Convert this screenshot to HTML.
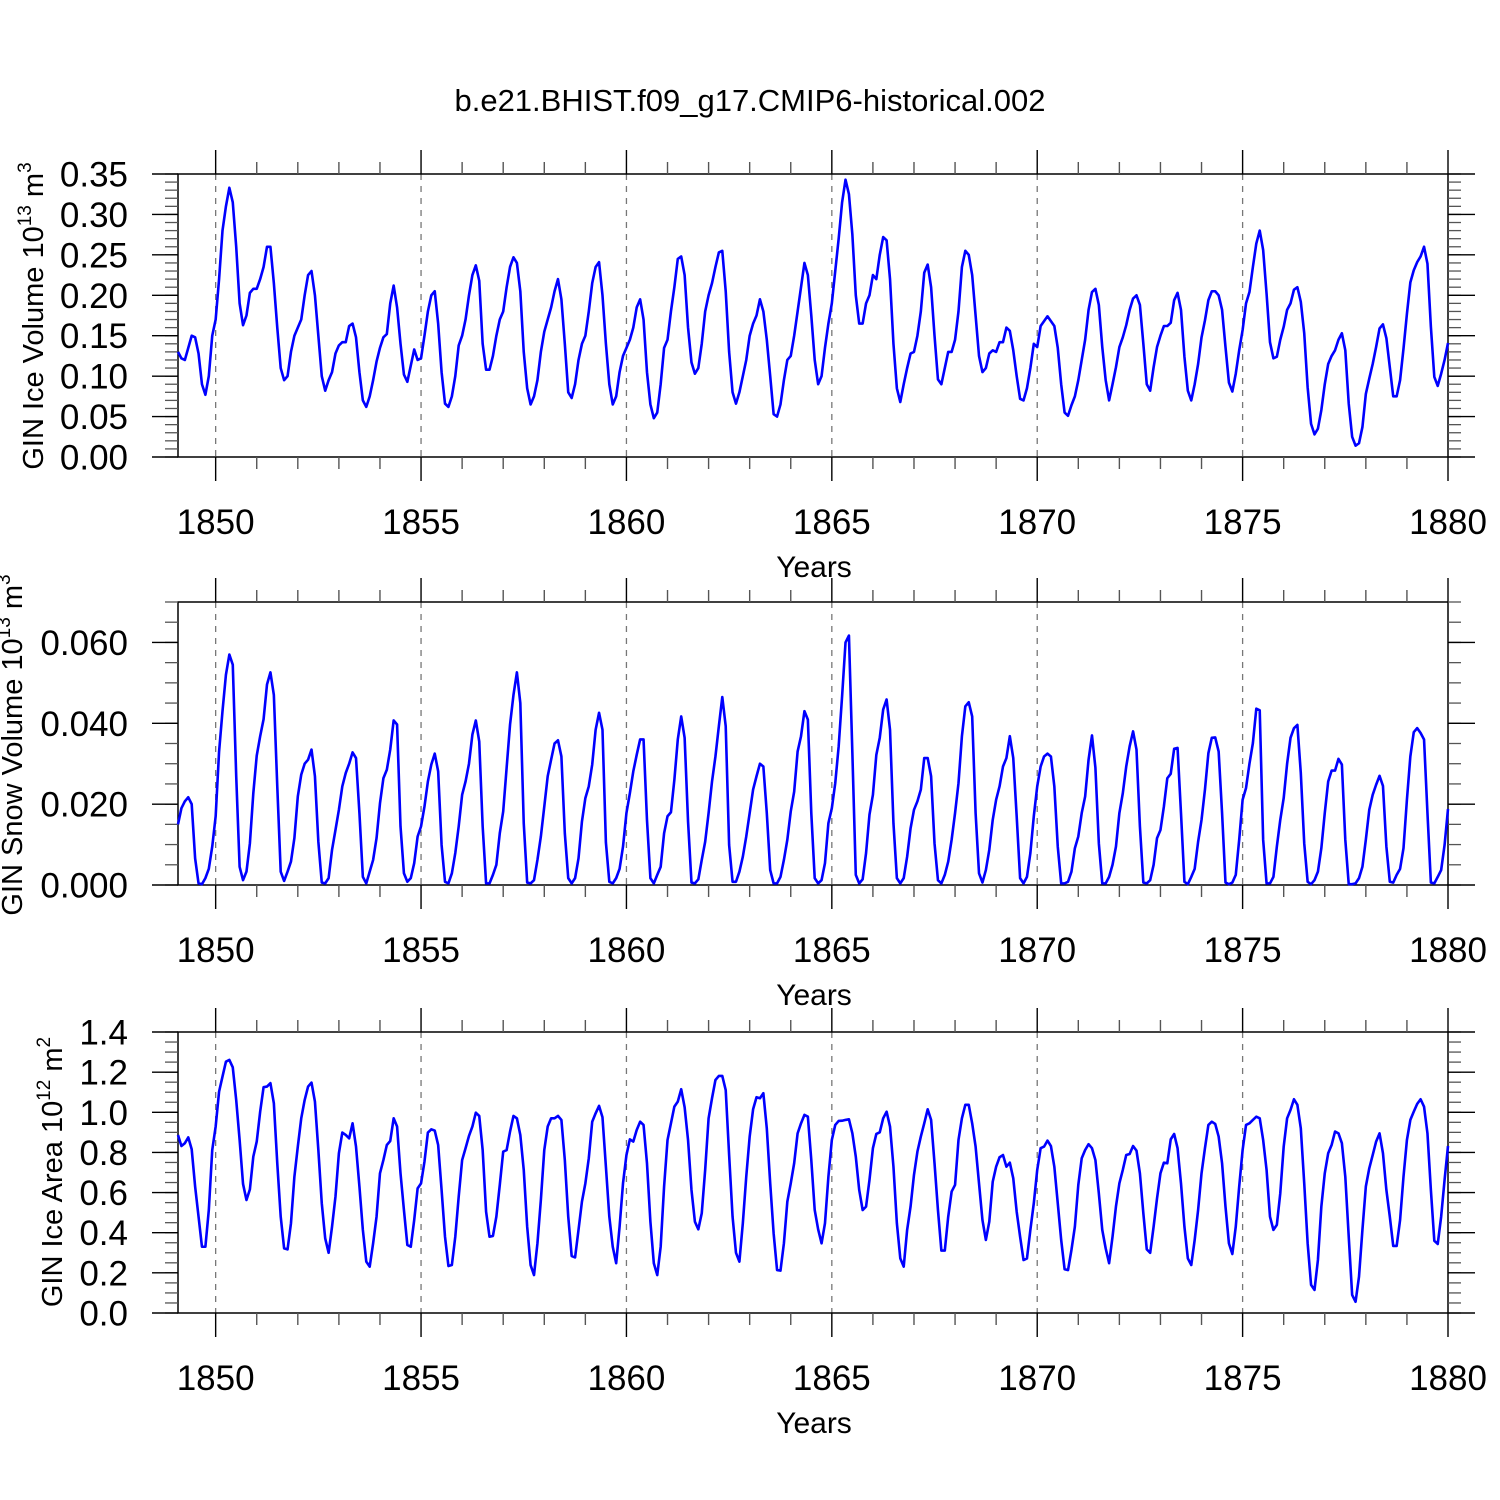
<!DOCTYPE html>
<html><head><meta charset="utf-8"><title>GIN chart</title>
<style>
html,body{margin:0;padding:0;background:#fff;}
svg{display:block;font-family:"Liberation Sans",Arial,sans-serif;}
</style></head>
<body>
<svg id="chart" width="1500" height="1500" viewBox="0 0 1500 1500" xmlns="http://www.w3.org/2000/svg">
<rect x="0" y="0" width="1500" height="1500" fill="#fff"/>
<text x="750" y="111" font-size="31" text-anchor="middle">b.e21.BHIST.f09_g17.CMIP6-historical.002</text>
<text transform="translate(43,316) rotate(-90)" font-size="29" text-anchor="middle">GIN Ice Volume 10<tspan font-size="19" dy="-12">13</tspan><tspan dy="12"> m</tspan><tspan font-size="19" dy="-12">3</tspan></text>
<text transform="translate(22,745) rotate(-90)" font-size="29" text-anchor="middle">GIN Snow Volume 10<tspan font-size="19" dy="-12">13</tspan><tspan dy="12"> m</tspan><tspan font-size="19" dy="-12">3</tspan></text>
<text transform="translate(62,1172) rotate(-90)" font-size="29" text-anchor="middle">GIN Ice Area 10<tspan font-size="19" dy="-12">12</tspan><tspan dy="12"> m</tspan><tspan font-size="19" dy="-12">2</tspan></text>
</svg>
<script>
// x-axis data
const xTickYears = [1850, 1855, 1860, 1865, 1870, 1875, 1880];
const startYear = 1849; // first sample at startYear + 1/12
// Ice volume (10^13 m^3), monthly
const iceVolume = [
0.13,0.122,0.12,0.135,0.15,0.148,0.128,0.09,0.077,0.10,0.15,
0.17,0.22,0.28,0.31,0.333,0.315,0.26,0.19,0.163,0.175,0.203,0.208,
0.208,0.22,0.235,0.26,0.26,0.215,0.16,0.11,0.095,0.10,0.13,0.15,
0.16,0.17,0.2,0.225,0.23,0.2,0.15,0.1,0.082,0.095,0.105,0.128,
0.138,0.142,0.142,0.162,0.165,0.148,0.105,0.07,0.062,0.075,0.095,0.118,
0.135,0.148,0.152,0.19,0.212,0.185,0.14,0.102,0.093,0.113,0.133,0.12,
0.122,0.15,0.18,0.2,0.205,0.165,0.105,0.066,0.062,0.075,0.10,0.138,
0.15,0.17,0.2,0.225,0.237,0.218,0.14,0.108,0.108,0.125,0.15,0.17,
0.18,0.21,0.235,0.247,0.24,0.205,0.13,0.085,0.065,0.075,0.095,0.13,
0.155,0.17,0.185,0.205,0.22,0.195,0.14,0.08,0.073,0.09,0.12,0.14,
0.15,0.18,0.215,0.235,0.241,0.2,0.14,0.09,0.065,0.075,0.105,0.125,
0.135,0.145,0.16,0.185,0.195,0.17,0.105,0.065,0.048,0.055,0.09,0.135,
0.145,0.18,0.21,0.245,0.248,0.225,0.16,0.117,0.103,0.11,0.14,0.18,
0.2,0.215,0.235,0.253,0.255,0.205,0.13,0.08,0.066,0.08,0.1,0.12,
0.15,0.165,0.175,0.195,0.18,0.145,0.1,0.053,0.05,0.065,0.095,0.12,
0.125,0.15,0.18,0.21,0.24,0.225,0.175,0.12,0.09,0.10,0.135,0.165,
0.19,0.23,0.27,0.315,0.343,0.325,0.275,0.2,0.165,0.165,0.19,0.2,
0.225,0.22,0.25,0.272,0.268,0.22,0.14,0.085,0.068,0.09,0.11,0.128,
0.13,0.15,0.18,0.228,0.238,0.21,0.15,0.096,0.09,0.11,0.13,0.13,
0.145,0.18,0.235,0.255,0.25,0.225,0.175,0.125,0.105,0.11,0.128,0.132,
0.13,0.142,0.142,0.16,0.156,0.132,0.1,0.072,0.07,0.085,0.11,0.14,
0.136,0.162,0.168,0.174,0.168,0.162,0.135,0.09,0.055,0.051,0.064,0.075,
0.095,0.12,0.145,0.182,0.204,0.208,0.188,0.136,0.095,0.07,0.09,0.111,
0.136,0.148,0.163,0.182,0.196,0.2,0.188,0.14,0.09,0.082,0.111,0.136,
0.15,0.162,0.162,0.166,0.194,0.203,0.182,0.124,0.082,0.07,0.09,0.115,
0.148,0.169,0.194,0.205,0.205,0.2,0.182,0.136,0.092,0.081,0.103,0.132,
0.157,0.19,0.204,0.235,0.264,0.28,0.256,0.202,0.142,0.122,0.124,0.145,
0.161,0.182,0.19,0.207,0.21,0.192,0.153,0.086,0.041,0.028,0.035,0.058,
0.09,0.115,0.125,0.132,0.145,0.153,0.132,0.066,0.025,0.014,0.017,0.037,
0.078,0.097,0.115,0.136,0.159,0.164,0.147,0.111,0.075,0.075,0.095,0.134,
0.177,0.216,0.231,0.241,0.248,0.26,0.239,0.161,0.099,0.088,0.103,0.12,
0.141];
// Snow volume (10^13 m^3), monthly
const snowVolume = [
0.015,0.019,0.0207,0.0217,0.020,0.0066,0.0004,0.0002,0.0017,0.004,0.0095,
0.017,0.033,0.043,0.052,0.057,0.0545,0.027,0.0045,0.0012,0.0033,0.0103,0.0227,
0.032,0.0368,0.041,0.0496,0.0526,0.047,0.0244,0.0033,0.001,0.0033,0.0058,0.0116,
0.0219,0.0273,0.030,0.031,0.0335,0.0269,0.0107,0.0006,0.0004,0.0017,0.0087,0.0136,
0.0186,0.0244,0.0277,0.030,0.0328,0.0314,0.0178,0.002,0.0004,0.0033,0.0062,0.0116,
0.0202,0.0264,0.0285,0.0335,0.0407,0.0397,0.0145,0.0029,0.0008,0.0017,0.0054,0.012,
0.0145,0.0194,0.0256,0.0298,0.0325,0.0281,0.0099,0.0008,0.0004,0.0029,0.0079,0.0145,
0.0223,0.0256,0.030,0.0372,0.0407,0.0355,0.0145,0.0004,0.0004,0.0025,0.005,0.0128,
0.0182,0.029,0.0397,0.047,0.0526,0.045,0.0153,0.0006,0.0004,0.0012,0.0062,0.012,
0.0194,0.0269,0.031,0.035,0.0358,0.0318,0.0128,0.0017,0.0004,0.0017,0.0066,0.0157,
0.0215,0.0244,0.0298,0.0384,0.0426,0.0384,0.0105,0.0008,0.0004,0.0017,0.004,0.0095,
0.0178,0.0227,0.0281,0.0322,0.036,0.036,0.0161,0.0017,0.0004,0.0025,0.0045,0.0128,
0.017,0.018,0.026,0.036,0.0417,0.0364,0.0157,0.0006,0.0004,0.0014,0.0062,0.0107,
0.0178,0.0256,0.0318,0.0393,0.0465,0.0393,0.0099,0.0008,0.0008,0.0033,0.007,0.012,
0.0178,0.0236,0.0269,0.030,0.0293,0.0178,0.0037,0.0004,0.0004,0.002,0.0062,0.0112,
0.0182,0.0231,0.033,0.0368,0.043,0.0409,0.0178,0.0017,0.0004,0.0012,0.0054,0.0153,
0.019,0.0252,0.0343,0.0467,0.060,0.0617,0.0326,0.0025,0.0004,0.0014,0.0079,0.0174,
0.0223,0.0322,0.0364,0.0434,0.0459,0.0384,0.0153,0.0017,0.0004,0.0017,0.007,0.014,
0.0186,0.0207,0.0236,0.0314,0.0314,0.0269,0.0103,0.0012,0.0004,0.0025,0.0058,0.0112,
0.0178,0.0252,0.0368,0.0442,0.0452,0.0417,0.0178,0.0029,0.0006,0.0037,0.0087,0.0161,
0.0211,0.0244,0.0293,0.0314,0.0368,0.0314,0.017,0.0017,0.0004,0.002,0.0079,0.017,
0.0244,0.0293,0.0318,0.0325,0.0318,0.0244,0.0095,0.0004,0.0004,0.0008,0.0033,0.0091,
0.012,0.0178,0.0219,0.031,0.037,0.029,0.0103,0.0004,0.0004,0.002,0.005,0.0095,
0.0178,0.0227,0.0293,0.0343,0.038,0.0335,0.0145,0.0006,0.0004,0.0012,0.005,0.0116,
0.0136,0.0194,0.0264,0.0275,0.0337,0.0339,0.0178,0.0008,0.0002,0.002,0.004,0.0107,
0.0161,0.0236,0.0326,0.0364,0.0365,0.033,0.0178,0.0006,0.0002,0.0006,0.0025,0.0112,
0.0211,0.024,0.030,0.0351,0.0436,0.0432,0.0112,0.0004,0.0004,0.002,0.0095,0.0161,
0.0215,0.030,0.0364,0.0388,0.0396,0.0277,0.0103,0.0008,0.0002,0.0012,0.0033,0.0091,
0.0178,0.0256,0.0283,0.0283,0.0312,0.0298,0.0112,0.0002,0.0002,0.0004,0.0017,0.0045,
0.0112,0.0186,0.0223,0.0248,0.027,0.0245,0.0095,0.0008,0.0006,0.0025,0.004,0.0091,
0.0211,0.0318,0.0378,0.0388,0.0376,0.036,0.0178,0.0006,0.0004,0.002,0.0037,0.0099,
0.0188];
// Ice area (10^12 m^2), monthly
const iceArea = [
0.887,0.832,0.846,0.875,0.816,0.63,0.48,0.33,0.33,0.513,0.812,
0.929,1.103,1.178,1.252,1.261,1.224,1.061,0.862,0.643,0.563,0.616,0.779,
0.854,1.003,1.125,1.128,1.145,1.045,0.746,0.48,0.322,0.317,0.447,0.679,
0.829,0.97,1.061,1.128,1.148,1.053,0.812,0.547,0.372,0.30,0.43,0.58,
0.796,0.899,0.887,0.87,0.945,0.829,0.63,0.414,0.256,0.231,0.347,0.48,
0.696,0.762,0.837,0.857,0.97,0.929,0.696,0.513,0.339,0.33,0.463,0.621,
0.646,0.754,0.899,0.915,0.909,0.837,0.613,0.38,0.234,0.239,0.38,0.58,
0.762,0.821,0.882,0.929,0.998,0.982,0.812,0.505,0.38,0.384,0.48,0.638,
0.804,0.812,0.904,0.982,0.97,0.887,0.713,0.43,0.239,0.189,0.347,0.563,
0.812,0.929,0.97,0.97,0.982,0.962,0.762,0.48,0.284,0.277,0.414,0.555,
0.646,0.771,0.953,0.995,1.032,0.975,0.729,0.48,0.33,0.248,0.43,0.646,
0.787,0.865,0.854,0.912,0.953,0.937,0.746,0.455,0.248,0.189,0.33,0.63,
0.862,0.945,1.028,1.053,1.115,1.025,0.862,0.613,0.455,0.417,0.497,0.713,
0.97,1.07,1.161,1.181,1.181,1.111,0.787,0.48,0.30,0.256,0.447,0.679,
0.879,1.015,1.075,1.07,1.095,0.92,0.646,0.397,0.214,0.211,0.347,0.555,
0.646,0.746,0.895,0.945,0.987,0.978,0.762,0.513,0.417,0.347,0.447,0.679,
0.862,0.937,0.957,0.958,0.962,0.965,0.895,0.779,0.613,0.513,0.53,0.663,
0.821,0.892,0.9,0.97,1.003,0.929,0.729,0.447,0.272,0.231,0.414,0.53,
0.688,0.804,0.879,0.945,1.015,0.962,0.746,0.513,0.311,0.311,0.48,0.605,
0.638,0.862,0.97,1.037,1.037,0.945,0.829,0.646,0.463,0.364,0.455,0.654,
0.729,0.776,0.787,0.729,0.749,0.671,0.505,0.38,0.264,0.272,0.414,0.547,
0.713,0.821,0.829,0.859,0.832,0.729,0.547,0.364,0.218,0.214,0.314,0.43,
0.638,0.771,0.812,0.841,0.821,0.762,0.596,0.414,0.322,0.248,0.38,0.53,
0.646,0.713,0.787,0.792,0.832,0.809,0.696,0.497,0.317,0.30,0.43,0.571,
0.696,0.749,0.746,0.865,0.892,0.821,0.646,0.43,0.272,0.239,0.364,0.513,
0.696,0.821,0.937,0.953,0.942,0.879,0.746,0.53,0.347,0.294,0.43,0.63,
0.812,0.937,0.945,0.962,0.978,0.97,0.862,0.713,0.48,0.414,0.439,0.596,
0.829,0.97,1.012,1.065,1.037,0.92,0.646,0.347,0.14,0.115,0.264,0.53,
0.696,0.796,0.837,0.904,0.895,0.846,0.679,0.38,0.09,0.056,0.181,0.414,
0.63,0.721,0.787,0.854,0.895,0.796,0.613,0.48,0.334,0.334,0.463,0.679,
0.862,0.962,1.003,1.042,1.065,1.028,0.895,0.613,0.36,0.344,0.48,0.663,
0.832];
// y-axis tick data
const iceVolumeTicks = [0, 0.05, 0.10, 0.15, 0.20, 0.25, 0.30, 0.35];
const iceVolumeTickLabels = ["0.00","0.05","0.10","0.15","0.20","0.25","0.30","0.35"];
const snowVolumeTicks = [0, 0.02, 0.04, 0.06];
const snowVolumeTickLabels = ["0.000","0.020","0.040","0.060"];
const iceAreaTicks = [0, 0.2, 0.4, 0.6, 0.8, 1.0, 1.2, 1.4];
const iceAreaTickLabels = ["0.0","0.2","0.4","0.6","0.8","1.0","1.2","1.4"];

const NS = "http://www.w3.org/2000/svg";
const svg = document.getElementById("chart");
const X0 = 178, X1 = 1448, YEAR0 = 1849.0833, YEAR1 = 1880;
function xScale(t){ return X0 + (t - YEAR0) / (YEAR1 - YEAR0) * (X1 - X0); }
function mk(tag, attrs, parent){
  const e = document.createElementNS(NS, tag);
  for (const k in attrs) e.setAttribute(k, attrs[k]);
  (parent || svg).appendChild(e);
  return e;
}

function drawPanel(key, top, bottom, ymax, minorStep, ticks, tickLabels, values){
  const g = mk("g", {});
  
  
  const yScale = v => bottom - v / ymax * (bottom - top);
  xTickYears.forEach(yr => {
    if (yr >= YEAR1) return;
    const gl = mk("line", {x1:xScale(yr), x2:xScale(yr), y1:top, y2:bottom, stroke:"#777", "stroke-width":1.3, "stroke-dasharray":"6,6"}, g);
    
    
  });
  const fr = mk("rect", {x:X0, y:top, width:X1-X0, height:bottom-top, fill:"none", stroke:"#000", "stroke-width":1.5}, g);
  
  
  for (let yr = 1849; yr <= 1880; yr++) {
    const x = xScale(yr);
    if (x < X0 - 0.5) continue;
    const major = xTickYears.includes(yr);
    const len = major ? 24 : 12;
    const col = major ? "#000" : "#555";
    mk("line", {x1:x, x2:x, y1:top, y2:top-len, stroke:col, "stroke-width":1.4}, g);
    mk("line", {x1:x, x2:x, y1:bottom, y2:bottom+len, stroke:col, "stroke-width":1.4}, g);
  }
  xTickYears.forEach(yr => {
    const t = mk("text", {x:xScale(yr), y:bottom+77, "font-size":35, "text-anchor":"middle"}, g);
    t.textContent = String(yr);
    
    
  });
  const xt = mk("text", {x:814, y:bottom+120, "font-size":30, "text-anchor":"middle"}, g);
  xt.textContent = "Years";
  
  
  const nMinor = Math.round(ymax / minorStep);
  for (let i = 0; i <= nMinor; i++) {
    const y = yScale(i * minorStep);
    mk("line", {x1:X0, x2:X0-13, y1:y, y2:y, stroke:"#555", "stroke-width":1.3}, g);
    mk("line", {x1:X1, x2:X1+13, y1:y, y2:y, stroke:"#555", "stroke-width":1.3}, g);
  }
  ticks.forEach((v, i) => {
    const y = yScale(v);
    mk("line", {x1:X0, x2:X0-26, y1:y, y2:y, stroke:"#000", "stroke-width":1.4}, g);
    mk("line", {x1:X1, x2:X1+27, y1:y, y2:y, stroke:"#000", "stroke-width":1.4}, g);
    const t = mk("text", {x:128, y:y+12.5, "font-size":35, "text-anchor":"end"}, g);
    t.textContent = tickLabels[i];
    
    
  });
  const pts = values.map((v, i) => {
    const t = startYear + (i + 1) / 12;
    return xScale(t).toFixed(2) + "," + yScale(v).toFixed(2);
  }).join(" ");
  const pl = mk("polyline", {points:pts, fill:"none", stroke:"#0000ff", "stroke-width":2.6, "stroke-linejoin":"round"}, g);
  
  
}

drawPanel("ice-volume", 174, 457, 0.35, 0.01, iceVolumeTicks, iceVolumeTickLabels, iceVolume);
drawPanel("snow-volume", 602, 885, 0.07, 0.005, snowVolumeTicks, snowVolumeTickLabels, snowVolume);
drawPanel("ice-area", 1032, 1313, 1.4, 0.05, iceAreaTicks, iceAreaTickLabels, iceArea);
</script>
</body></html>
